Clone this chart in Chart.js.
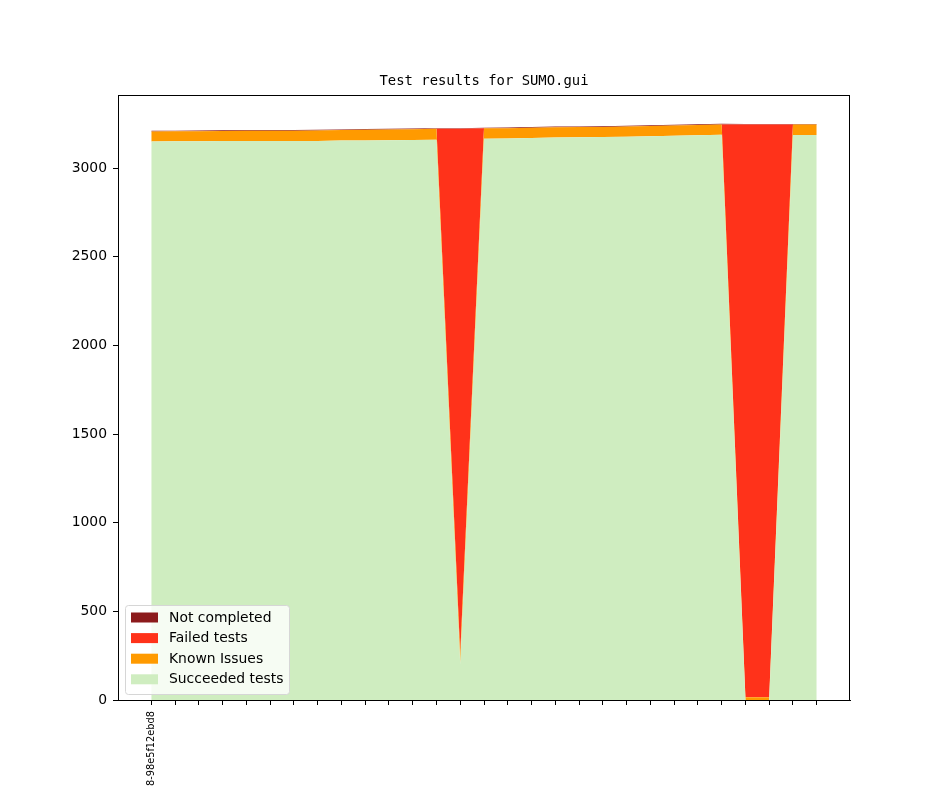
<!DOCTYPE html>
<html>
<head>
<meta charset="utf-8">
<script src="https://cdn.jsdelivr.net/npm/chart.js@4.4.1/dist/chart.umd.min.js"></script>
<style>
  html, body { margin: 0; padding: 0; background: #fff; }
  #wrap { width: 944px; height: 787px; }
</style>
</head>
<body>
<div id="wrap"><canvas id="chartresults" width="944" height="787"></canvas></div>
<script>
// one entry per revision, only the first one is labelled on the axis
const revisions = ['8-98e5f12ebd8', '', '', '', '', '', '', '', '', '', '', '', '', '', '',
                   '', '', '', '', '', '', '', '', '', '', '', '', '', ''];
const succeeded = [3150, 3151, 3151, 3152, 3152, 3153, 3152, 3153, 3155, 3156, 3157, 3158, 3160, 200,
                   3165, 3167, 3169, 3172, 3174, 3175, 3176, 3179, 3182, 3185, 3188, 0, 0, 3186, 3186];
const knownIssues = [56, 56, 57, 57, 58, 57, 58, 59, 59, 60, 60, 61, 61, 60,
                     59, 58, 58, 58, 57, 57, 58, 58, 58, 58, 58, 15, 15, 59, 59];
const failed = [0, 0, 0, 0, 0, 0, 0, 0, 0, 0, 0, 0, 0, 2961,
                0, 0, 0, 0, 0, 0, 0, 0, 0, 0, 0, 3230, 3230, 0, 0];
const notCompleted = [4, 4, 4, 4, 4, 4, 4, 4, 4, 4, 4, 4, 4, 4,
                      4, 4, 4, 4, 4, 4, 4, 4, 4, 4, 4, 4, 4, 4, 4];
const yTicks = [0, 500, 1000, 1500, 2000, 2500, 3000];

const seriesNames = ['Succeeded tests', 'Known Issues', 'Failed tests', 'Not completed'];
const seriesColors = ['#cfedc0', '#ff9a00', '#ff321a', '#8c1a1c'];
const chartTitle = 'Test results for SUMO.gui';

const toPoints = (arr) => arr.map((v, i) => ({ x: i, y: v }));

// title, frame and the matplotlib-ish legend inside the plot
const decor = {
    id: 'decor',
    afterDraw(chart) {
        const ctx = chart.ctx;
        const a = chart.chartArea;
        ctx.save();
        ctx.strokeStyle = '#000';
        ctx.lineWidth = 1;
        ctx.strokeRect(Math.round(a.left) + 0.5, Math.round(a.top) + 0.5,
                       Math.round(a.right - a.left) - 1, Math.round(a.bottom - a.top));

        ctx.fillStyle = '#000';
        ctx.font = '13.9px "DejaVu Sans Mono"';
        ctx.textAlign = 'center';
        ctx.textBaseline = 'middle';
        ctx.fillText(chartTitle, (a.left + a.right) / 2, 81.5);

        // legend box
        const bx = 125.5, by = 605.5, bw = 164, bh = 89;
        ctx.beginPath();
        ctx.roundRect(bx, by, bw, bh, 3);
        ctx.fillStyle = 'rgba(255,255,255,0.8)';
        ctx.fill();
        ctx.strokeStyle = '#d6d6d6';
        ctx.stroke();

        ctx.font = '13.9px "DejaVu Sans"';
        ctx.textAlign = 'left';
        for (let k = 0; k < seriesNames.length; k++) {
            const j = seriesNames.length - 1 - k;
            const cy = 617.5 + k * 20.6;
            ctx.fillStyle = seriesColors[j];
            ctx.fillRect(131, cy - 5, 27, 10);
            ctx.fillStyle = '#000';
            ctx.fillText(seriesNames[j], 169, cy + 0.5);
        }
        ctx.restore();
    }
};

const datasets = [succeeded, knownIssues, failed, notCompleted].map((arr, i) => ({
    label: seriesNames[i],
    data: toPoints(arr),
    backgroundColor: seriesColors[i],
    borderColor: seriesColors[i],
    borderWidth: 0,
    pointRadius: 0,
    tension: 0,
    fill: i === 0 ? 'origin' : '-1'
}));

const mychart = new Chart(document.getElementById('chartresults'), {
    type: 'line',
    data: { datasets: datasets },
    options: {
        responsive: false,
        animation: false,
        layout: { padding: { top: 95, right: 94, left: 0, bottom: 0 } },
        plugins: {
            legend: { display: false },
            title: { display: false },
            tooltip: { enabled: false }
        },
        scales: {
            x: {
                type: 'linear',
                min: -1.4,
                max: 29.4,
                afterBuildTicks: (s) => { s.ticks = revisions.map((r, i) => ({ value: i })); },
                afterFit: (s) => { s.height = 87; },
                ticks: {
                    autoSkip: false,
                    minRotation: 90,
                    maxRotation: 90,
                    padding: 6,
                    color: '#000',
                    font: { family: 'DejaVu Sans', size: 9.8 },
                    callback: (v) => revisions[v] || ''
                },
                grid: { drawOnChartArea: false, tickLength: 5, color: '#000' },
                border: { color: '#000' }
            },
            y: {
                stacked: true,
                min: 0,
                max: 3412,
                afterBuildTicks: (s) => { s.ticks = yTicks.map((v) => ({ value: v })); },
                afterFit: (s) => { s.width = 118; },
                ticks: {
                    padding: 6,
                    color: '#000',
                    font: { family: 'DejaVu Sans', size: 13.9 },
                    callback: (v) => String(v)
                },
                grid: { drawOnChartArea: false, tickLength: 5, color: '#000' },
                border: { color: '#000' }
            }
        }
    },
    plugins: [decor]
});
</script>
</body>
</html>
